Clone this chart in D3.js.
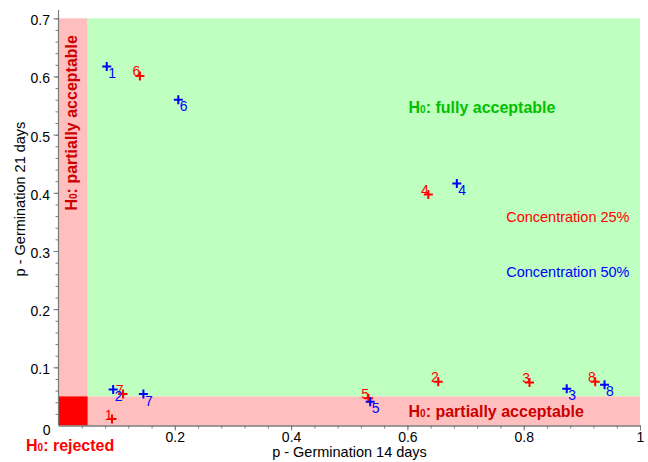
<!DOCTYPE html>
<html>
<head>
<meta charset="utf-8">
<script src="https://cdn.jsdelivr.net/npm/d3@7"></script>
<style>
  html, body { margin: 0; padding: 0; background: #fff; }
  svg { display: block; font-family: "Liberation Sans", Arial, Helvetica, sans-serif; }
</style>
</head>
<body>
<svg id="chart" width="648" height="462"></svg>
<script>
// Sample identifiers
const ids = [1, 2, 3, 4, 5, 6, 7, 8];

// p-values, concentration 25%
const p14_c25 = [0.092, 0.653, 0.810, 0.636, 0.533, 0.140, 0.111, 0.923];
const p21_c25 = [0.011, 0.075, 0.074, 0.397, 0.047, 0.601, 0.054, 0.075];

// p-values, concentration 50%
const p14_c50 = [0.083, 0.094, 0.874, 0.685, 0.536, 0.206, 0.146, 0.939];
const p21_c50 = [0.617, 0.062, 0.063, 0.416, 0.041, 0.560, 0.054, 0.070];

// Significance threshold and axis ticks
const alpha = 0.05;
const xTicks = [0.2, 0.4, 0.6, 0.8, 1];
const yTicks = [0.1, 0.2, 0.3, 0.4, 0.5, 0.6, 0.7];

const series = [
  { name: "Concentration 25%", color: "#ff0000", x: p14_c25, y: p21_c25, labelSide: "upleft" },
  { name: "Concentration 50%", color: "#0000ff", x: p14_c50, y: p21_c50, labelSide: "downright" }
];

const svg = d3.select("#chart");
const x = d3.scaleLinear().domain([0, 1]).range([58.5, 640]);
const y = d3.scaleLinear().domain([0, 0.7]).range([425.5, 18.3]);

// Decision regions
const regions = svg.append("g");
regions.append("rect")
  .attr("x", x(alpha)).attr("y", y(0.7))
  .attr("width", x(1) - x(alpha)).attr("height", y(alpha) - y(0.7))
  .attr("fill", "#bfffbf");
regions.append("rect")
  .attr("x", x(0)).attr("y", y(0.7))
  .attr("width", x(alpha) - x(0)).attr("height", y(0) - y(0.7))
  .attr("fill", "#ffbfbf");
regions.append("rect")
  .attr("x", x(0)).attr("y", y(alpha))
  .attr("width", x(1) - x(0)).attr("height", y(0) - y(alpha))
  .attr("fill", "#ffbfbf");
regions.append("rect")
  .attr("x", x(0)).attr("y", y(alpha))
  .attr("width", x(alpha) - x(0)).attr("height", y(0) - y(alpha))
  .attr("fill", "#ff0000");

// Axes
const axisColor = "#7a7a7a";
function styleAxis(g) {
  g.selectAll(".domain").attr("stroke", axisColor).attr("stroke-width", 1.2);
  g.selectAll(".tick line").attr("stroke", axisColor);
  g.selectAll(".tick text").attr("fill", "#000").style("font-size", "14px")
    .style("font-family", "'Liberation Sans', Arial, sans-serif");
}

const xMinor = d3.range(0.04, 1.0001, 0.04);
svg.append("g").attr("transform", `translate(0,${y(0)})`)
  .call(d3.axisBottom(x).tickValues(xMinor).tickSize(3).tickFormat("").tickSizeOuter(0))
  .call(styleAxis);
svg.append("g").attr("transform", `translate(0,${y(0)})`)
  .call(d3.axisBottom(x).tickValues(xTicks).tickSize(5).tickPadding(1.5).tickSizeOuter(0)
    .tickFormat(d => d === 1 ? "1" : d3.format(".1f")(d)))
  .call(styleAxis);

const yMinor = d3.range(0.02, 0.7001, 0.02);
svg.append("g").attr("transform", `translate(${x(0)},0)`)
  .call(d3.axisLeft(y).tickValues(yMinor).tickSize(3).tickFormat("").tickSizeOuter(0))
  .call(styleAxis)
  .select(".domain").attr("d", `M0,${y(0)}V10`);
svg.append("g").attr("transform", `translate(${x(0)},0)`)
  .call(d3.axisLeft(y).tickValues(yTicks).tickSize(5).tickPadding(3.5).tickSizeOuter(0)
    .tickFormat(d3.format(".1f")))
  .call(styleAxis)
  .call(g => g.selectAll(".tick text").attr("dy", "0.46em"))
  .select(".domain").remove();

// Shared origin label
svg.append("text")
  .attr("x", 46.7).attr("y", 435)
  .attr("text-anchor", "middle")
  .style("font-size", "14px")
  .text("0");

// Axis titles
svg.append("text")
  .attr("x", 349.5).attr("y", 457)
  .attr("text-anchor", "middle")
  .style("font-size", "14.5px")
  .text("p - Germination 14 days");
svg.append("text")
  .attr("transform", "translate(24.5,199) rotate(-90)")
  .attr("text-anchor", "middle")
  .style("font-size", "14.5px")
  .text("p - Germination 21 days");

// Region annotations (H0 with a small zero)
function h0Label(sel, rest) {
  sel.append("tspan").text("H");
  sel.append("tspan").style("font-size", "10px").text("0");
  sel.append("tspan").text(rest);
}
svg.append("text")
  .attr("x", 408.5).attr("y", 113)
  .attr("fill", "#00c000").style("font-weight", "bold").style("font-size", "16px")
  .call(h0Label, ": fully acceptable");
svg.append("text")
  .attr("x", 408.5).attr("y", 417)
  .attr("fill", "#cc0000").style("font-weight", "bold").style("font-size", "16px")
  .call(h0Label, ": partially acceptable");
svg.append("text")
  .attr("transform", "translate(77,210.5) rotate(-90)")
  .attr("fill", "#cc0000").style("font-weight", "bold").style("font-size", "16px")
  .call(h0Label, ": partially acceptable");
svg.append("text")
  .attr("x", 26).attr("y", 451)
  .attr("fill", "#ff0000").style("font-weight", "bold").style("font-size", "16px")
  .call(h0Label, ": rejected");

// Legend
const legendY = [221.5, 277];
series.forEach((s, i) => {
  svg.append("text")
    .attr("x", 629.5).attr("y", legendY[i])
    .attr("text-anchor", "end")
    .attr("fill", s.color)
    .style("font-size", "14.5px")
    .text(s.name);
});

// Points: plus markers with sample numbers
const plus = "M-4.5,0H4.5M0,-4.5V4.5";
series.forEach(s => {
  const pts = ids.map((id, i) => ({ id, px: s.x[i], py: s.y[i] }));
  const g = svg.append("g");
  g.selectAll("text").data(pts).join("text")
    .attr("x", d => s.labelSide === "upleft" ? x(d.px) + 0.5 : x(d.px) + 1.5)
    .attr("y", d => s.labelSide === "upleft" ? y(d.py) + 0.5 : y(d.py) + 11.5)
    .attr("text-anchor", s.labelSide === "upleft" ? "end" : "start")
    .attr("fill", s.color)
    .style("font-size", "14px")
    .text(d => d.id);
  g.selectAll("path").data(pts).join("path")
    .attr("transform", d => `translate(${x(d.px)},${y(d.py)})`)
    .attr("d", plus)
    .attr("stroke", s.color)
    .attr("stroke-width", 2)
    .attr("fill", "none");
});
</script>
</body>
</html>
